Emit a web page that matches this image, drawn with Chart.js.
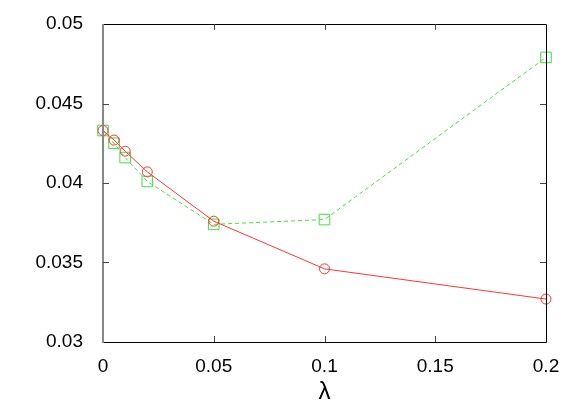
<!DOCTYPE html>
<html lang="en">
<head>
    <meta charset="UTF-8">
    <title>lambda chart</title>
    <script src="https://cdn.jsdelivr.net/npm/chart.js"></script>
    <style>
        html, body { margin: 0; padding: 0; background: #fff; }
        #wrap { width: 581px; height: 407px; position: relative; }
    </style>
</head>
<body>
    <div id="wrap">
        <canvas id="lambdaChart"></canvas>
    </div>

    <script>
        // Daten
        const lambdas = [0, 0.005, 0.01, 0.02, 0.05, 0.1, 0.2];
        const redValues = [0.0433, 0.0427, 0.0420, 0.0407, 0.0376, 0.0346, 0.0327];
        const greenValues = [0.0433, 0.0425, 0.0416, 0.0401, 0.0374, 0.0377, 0.0479];

        const xTicks = [0, 0.05, 0.1, 0.15, 0.2];
        const xTickLabels = ['0', '0.05', '0.1', '0.15', '0.2'];
        const yTicks = [0.03, 0.035, 0.04, 0.045, 0.05];
        const yTickLabels = ['0.03', '0.035', '0.04', '0.045', '0.05'];

        const toPoints = (xs, ys) => xs.map((x, i) => ({ x: x, y: ys[i] }));

        // Rahmen + innenliegende Ticks wie bei gnuplot
        const frame = {
            id: 'frame',
            afterDatasetsDraw(chart) {
                const { ctx, chartArea: a, scales } = chart;
                ctx.save();
                ctx.lineWidth = 1;
                ctx.strokeStyle = '#000';
                ctx.beginPath();
                ctx.moveTo(a.left, a.top + 0.5);
                ctx.lineTo(a.right + 0.5, a.top + 0.5);
                ctx.lineTo(a.right + 0.5, a.bottom + 0.5);
                ctx.lineTo(a.left, a.bottom + 0.5);
                ctx.stroke();
                ctx.strokeStyle = '#888';
                ctx.lineWidth = 2;
                ctx.beginPath();
                ctx.moveTo(a.left, a.top);
                ctx.lineTo(a.left, a.bottom + 1);
                ctx.stroke();

                ctx.lineWidth = 1;
                ctx.strokeStyle = '#444';
                const len = 6;
                ctx.beginPath();
                xTicks.slice(1, -1).forEach(v => {
                    const px = Math.round(scales.x.getPixelForValue(v)) + 0.5;
                    ctx.moveTo(px, a.bottom);
                    ctx.lineTo(px, a.bottom - len);
                    ctx.moveTo(px, a.top);
                    ctx.lineTo(px, a.top + len);
                });
                yTicks.slice(1, -1).forEach(v => {
                    const py = Math.round(scales.y.getPixelForValue(v)) + 0.5;
                    ctx.moveTo(a.left, py);
                    ctx.lineTo(a.left + len, py);
                    ctx.moveTo(a.right, py);
                    ctx.lineTo(a.right - len, py);
                });
                ctx.stroke();
                ctx.restore();
            }
        };

        new Chart(document.getElementById('lambdaChart'), {
            type: 'scatter',
            data: {
                datasets: [{
                    data: toPoints(lambdas, redValues),
                    showLine: true,
                    borderColor: '#ff3535',
                    backgroundColor: 'rgba(0,0,0,0)',
                    borderWidth: 1,
                    pointStyle: 'circle',
                    pointRadius: 5,
                    pointBorderWidth: 1,
                    tension: 0
                }, {
                    data: toPoints(lambdas, greenValues),
                    showLine: true,
                    borderColor: '#3ee23e',
                    backgroundColor: 'rgba(0,0,0,0)',
                    borderWidth: 1,
                    borderDash: [4, 3],
                    pointStyle: 'rect',
                    pointRadius: 7.5,
                    pointBorderWidth: 1,
                    tension: 0
                }]
            },
            options: {
                responsive: true,
                maintainAspectRatio: false,
                animation: false,
                clip: false,
                layout: { padding: { top: 24, right: 35, left: 0, bottom: 0 } },
                plugins: {
                    legend: { display: false },
                    tooltip: { enabled: false }
                },
                scales: {
                    x: {
                        type: 'linear',
                        min: 0,
                        max: 0.2,
                        grid: { display: false },
                        border: { display: false },
                        afterBuildTicks: s => { s.ticks = xTicks.map(v => ({ value: v })); },
                        afterFit: s => { s.height = 65; },
                        ticks: {
                            padding: 5,
                            color: '#000',
                            font: { family: 'Liberation Sans', size: 19 },
                            maxRotation: 0,
                            callback: (v) => xTickLabels[xTicks.indexOf(v)]
                        },
                        title: {
                            display: true,
                            text: 'λ',
                            color: '#000',
                            font: { family: 'Liberation Sans', size: 24 },
                            padding: { top: 0, bottom: 0 }
                        }
                    },
                    y: {
                        type: 'linear',
                        min: 0.03,
                        max: 0.05,
                        grid: { display: false },
                        border: { display: false },
                        afterBuildTicks: s => { s.ticks = yTicks.map(v => ({ value: v })); },
                        afterFit: s => { s.width = 103; },
                        ticks: {
                            padding: 12,
                            color: '#000',
                            font: { family: 'Liberation Sans', size: 19 },
                            callback: (v) => yTickLabels[yTicks.indexOf(v)]
                        }
                    }
                }
            },
            plugins: [frame]
        });
    </script>
</body>
</html>
